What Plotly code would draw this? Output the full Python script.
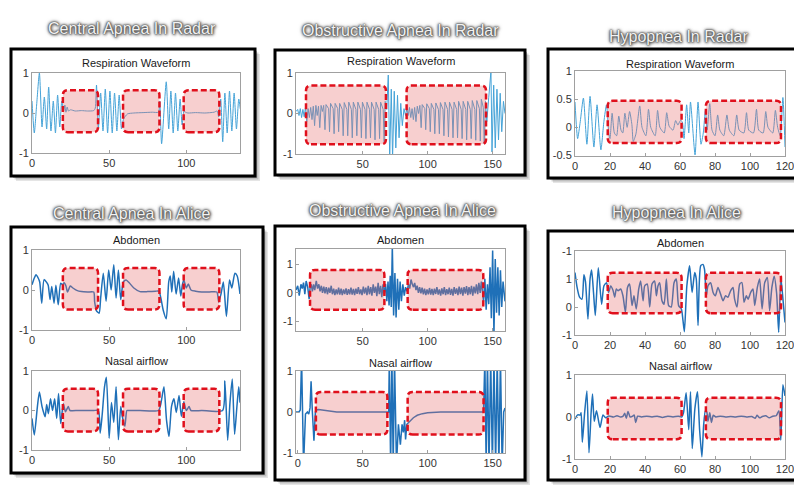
import plotly.graph_objects as go

# ---------------- DATA (time in s, normalised amplitude) ----------------
cr_points = [(0,0.3),(1.5,-0.5),(3,0.2),(4.8,1.0),(6.5,-0.35),(8,0.4),(9.5,-0.4),(10.8,0.65),(12.3,-0.45),
             (13.8,0.3),(15.2,-0.5),(16.6,0.45),(18,-0.35),(19.3,0.3),(20.5,0.05),(21.3,0.2),(22,0.02),(22.8,0.15),
             (23.6,0.05),(25,0.08),(28,0.05),(32,0.06),(36,0.05),(40,0.06),(41,0.12),(41.8,0.7),(43,-0.4),(44.5,0.5),
             (46,-0.45),(47.5,0.6),(49,-0.5),(50.5,0.55),(52,-0.5),(53.5,0.5),(55,-0.45),(56.5,0.45),(58,-0.4),
             (59.3,-0.15),(60.5,-0.08),(62,-0.02),(66,0.0),(72,0.01),(78,0.02),(82,0.02),(82.8,0.3),(84,-0.77),
             (87,0.78),(88.6,-0.4),(90,0.55),(91.5,-0.5),(93,0.5),(94.5,-0.45),(96,0.35),(97.3,-0.3),(98.5,0.05),
             (99.5,0.02),(101,0.0),(106,0.01),(112,0.0),(118,0.02),(120,0.05),(121,-0.1),(122.3,0.35),(123.6,-0.72),
             (125,0.5),(126.5,-0.5),(128,0.55),(129.5,-0.45),(131,0.5),(132.5,-0.4),(134,0.35),(135,0.1)]

or_points = [(-1.3,0.05),(0,0.1),(1,-0.05),(2,0.12),(3,-0.1),(4,0.1),(5,-0.08),(6,0.15),(7,-0.2),(8,0.12),(9,-0.1),
             (10,0.15),(11,-0.15),(12,0.18),(13,-0.3),(14,0.2),(15,-0.05),(16,0.18),(17,-0.35),(18,0.2),(19,0.05),
             (20,0.2),(21,-0.4),(21.8,0.22),(23.8,0.12),(24.5,-0.45),(25.3,0.25),(27.3,0.12),(28,-0.5),(28.8,0.25),
             (30.8,0.12),(31.5,-0.45),(32.3,0.25),(34.3,0.1),(35,-0.55),(35.8,0.27),(37.8,0.1),(38.5,-0.55),
             (39.3,0.28),(41.3,0.1),(42,-0.6),(42.8,0.28),(44.8,0.1),(45.5,-0.55),(46.3,0.28),(48.3,0.1),(49,-0.6),
             (49.8,0.28),(51.8,0.1),(52.5,-0.62),(53.3,0.28),(55.3,0.1),(56,-0.6),(56.8,0.28),(58.8,0.1),(59.5,-0.65),
             (60.3,0.28),(62.3,0.1),(63,-0.62),(63.8,0.28),(65.8,0.1),(66.5,-0.7),(67.3,0.3),(68.5,0.1),(69.7,0.95),
             (70.8,-1.1),(72,0.6),(73,-1.1),(74.3,0.55),(75.5,-0.85),(76.8,0.45),(78,-0.6),(79.3,0.25),(80.5,-0.3),
             (81.8,0.12),(83,-0.05),(84,0.12),(85,-0.05),(86,0.15),(87,-0.1),(88,0.12),(89,-0.15),(90,0.15),(91,-0.2),
             (92,0.18),(93,0.0),(94,0.2),(95,-0.35),(95.8,0.22),(97.8,0.12),(98.5,-0.4),(99.3,0.24),(101.3,0.12),
             (102,-0.45),(102.8,0.25),(104.8,0.1),(105.5,-0.5),(106.3,0.26),(108.3,0.1),(109,-0.5),(109.8,0.27),
             (111.8,0.1),(112.5,-0.55),(113.3,0.28),(115.3,0.1),(116,-0.58),(116.8,0.28),(118.8,0.1),(119.5,-0.6),
             (120.3,0.28),(122.3,0.1),(123,-0.6),(123.8,0.3),(125.8,0.1),(126.5,-0.62),(127.3,0.3),(129.3,0.1),
             (130,-0.65),(130.8,0.3),(132.8,0.1),(133.5,-0.62),(134.3,0.32),(136.3,0.1),(137,-0.66),(137.8,0.32),
             (139.8,0.12),(140.5,-0.68),(141.3,0.35),(142.8,0.15),(143.5,-0.75),(144.5,0.3),(145.5,-0.2),(147,0.4),
             (148.7,1.05),(149.5,-0.95),(150.8,0.7),(152,-0.85),(153.3,0.6),(154.5,-0.65),(155.8,0.5),(157,-0.45),
             (158.3,0.3),(159.5,0.0)]

hr_points = [(0,0.45),(1.5,-0.2),(3,0.1),(4.8,0.52),(6.8,-0.3),(8.6,0.55),(10.8,-0.35),(12.6,0.4),(14.8,-0.4),
             (16.5,0.1),(18,0.4),(19.3,-0.1),(20,-0.2),(21.2,0.25),(22.5,-0.1),(23.8,-0.15),(25,0.2),(26.3,-0.05),
             (27.3,-0.1),(28.5,0.25),(29.8,0.0),(31.2,0.28),(32.5,0.05),(33.3,-0.25),(34.8,-0.12),(37,0.38),(38.3,0.0),
             (40.5,-0.15),(42,0.32),(43.3,0.0),(45.8,-0.15),(47.2,0.3),(48.5,0.0),(51,-0.1),(52.4,0.26),(53.8,0.02),
             (56,-0.05),(57.5,0.12),(58.8,0.04),(60.2,0.12),(61.3,0.1),(62.3,-0.2),(63.8,0.4),(65,-0.1),(66,0.45),
             (68.6,-0.49),(70.3,0.45),(72,-0.3),(73.3,-0.1),(74.5,0.3),(75.5,-0.05),(77,0.42),(78.3,-0.05),(80,-0.15),
             (81.5,0.22),(82.8,-0.05),(85,-0.15),(86.8,0.22),(88.2,-0.05),(90.8,-0.15),(92.4,0.22),(93.8,-0.05),
             (96.5,-0.1),(98,0.26),(99.3,-0.05),(102,-0.1),(103.7,0.32),(105,-0.05),(107.5,-0.1),(109,0.28),(110.3,0.0),
             (113,-0.1),(114.5,0.3),(115.8,0.0),(117.3,-0.15),(118.8,0.53),(120,-0.35)]

caa_points = [(0,0.13),(1.5,0.3),(2.6,0.38),(4,0.3),(5,0.2),(6.3,-0.33),(7.8,0.26),(9.5,0.19),(10.5,0.12),
              (11.7,-0.24),(12.8,0.09),(14.3,-0.33),(15.5,0.12),(17,-0.37),(18.6,0.17),(19.8,0.13),(20.8,0.18),
              (22,0.1),(23,-0.05),(24.8,0.1),(26.5,0.05),(29,-0.01),(32,-0.04),(36,-0.05),(40,-0.05),(40.6,-0.3),
              (41.8,-0.52),(43.5,-0.58),(44.5,-0.2),(46.2,0.42),(48,-0.28),(49.7,0.5),(51.3,0.0),(53,0.63),(54.5,-0.2),
              (56,0.5),(57.5,-0.24),(59.2,0.2),(61,0.25),(63,0.18),(66,0.05),(70,-0.04),(75,-0.04),(80,-0.03),
              (82.2,-0.03),(83.5,-0.2),(85,-0.5),(87,-0.72),(88.6,0.2),(89.6,0.35),(90.6,-0.05),(91.8,0.47),
              (93.4,-0.1),(95,0.3),(96.4,-0.15),(97.4,0.12),(98.4,0.25),(100,0.05),(101.3,0.15),(103,0.0),(106,-0.03),
              (110,-0.05),(115,-0.05),(119.8,-0.05),(121,-0.3),(122.5,-0.1),(124,0.2),(126,-0.66),(128,0.25),
              (129.5,0.05),(131.5,0.42),(133,0.35),(134.8,-0.1)]

can_points = [(0,-0.2),(1.5,-0.62),(3.5,0.1),(4.8,0.47),(6.5,0.1),(8.5,-0.16),(9.5,0.15),(10.6,-0.08),(12,0.3),
              (13.3,0.0),(14.7,0.3),(16,-0.2),(17.2,0.43),(18.6,-0.33),(20.3,0.17),(21.7,-0.03),(23.5,0.1),(24.6,0.0),
              (30,0.0),(40,0.0),(43,0.0),(44.2,-0.57),(45.5,-0.1),(47,0.6),(48.2,0.84),(50,-0.7),(51.5,0.2),(53,-0.3),
              (54.5,0.6),(56,-0.74),(57.5,0.1),(58.5,-0.15),(60.2,-0.4),(61.5,0.0),(63,0.0),(70,0.0),(82,0.0),
              (83.5,0.17),(85.5,0.6),(87.2,-0.25),(88.8,-0.66),(90.4,0.1),(92,0.3),(93.5,-0.05),(95.3,0.38),
              (96.8,-0.15),(98.4,0.22),(100,0.0),(101.8,0.1),(103,0.0),(110,0.0),(123.5,0.0),(125,0.75),(126.8,-0.75),
              (128.3,0.2),(129.8,0.8),(131.3,-0.6),(132.8,0.1),(134,0.6),(134.8,0.2)]

oaa_points = [(-1.3,0.1),(0,0.25),(1.2,-0.1),(2.5,0.3),(3.5,0.15),(4.5,0.36),(5.5,-0.05),(6.5,0.42),(7.7,0.2),
              (8.8,-0.22),(9.6,0.2),(10.4,0.3),(11.3,0.05),(12.2,0.3),(13.1,0.1),(14.3,0.42),(15.3,0.15),(16.3,0.3),
              (17.2,0.05),(18.2,0.25),(19.1,0.0),(20.1,0.22),(21,-0.02),(22,0.2),(22.9,-0.05),(23.9,0.18),(24.8,0.0),
              (25.8,0.25),(26.7,-0.05),(27.7,0.15),(28.6,-0.08),(29.6,0.12),(30.5,-0.05),(31.5,0.18),(32.4,-0.06),
              (33.4,0.15),(34.3,-0.08),(35.3,0.12),(36.2,-0.04),(37.2,0.16),(38.1,-0.07),(39.1,0.13),(40,-0.05),
              (41,0.18),(41.9,-0.06),(42.9,0.14),(43.8,-0.08),(44.8,0.15),(45.7,-0.04),(46.7,0.2),(47.6,-0.05),
              (48.6,0.12),(49.5,-0.08),(50.5,0.22),(51.4,-0.03),(52.4,0.18),(53.3,-0.08),(54.3,0.25),(55.2,-0.05),
              (56.2,0.2),(57.1,-0.1),(58.1,0.3),(59,0.0),(60,0.22),(60.9,-0.12),(61.9,0.35),(62.8,-0.05),(63.8,0.25),
              (64.7,-0.15),(65.7,0.3),(66.6,-0.05),(67.6,0.32),(68.6,-0.3),(69.5,0.4),(70.3,-0.45),(71.2,0.6),
              (72,-0.5),(72.8,1.65),(73.8,-0.8),(74.8,0.7),(75.7,-0.87),(76.8,0.5),(77.8,-0.6),(78.8,0.4),(79.8,-0.3),
              (80.9,0.3),(82,-0.1),(83,0.2),(84.2,0.05),(85.2,0.3),(86.2,0.15),(87.2,0.47),(88.2,0.3),(89.1,0.2),
              (90,0.35),(91,0.1),(91.9,0.25),(92.9,0.0),(93.8,0.2),(94.8,-0.02),(95.7,0.18),(96.7,-0.05),(97.6,0.15),
              (98.6,-0.08),(99.5,0.12),(100.5,-0.05),(101.4,0.17),(102.4,-0.06),(103.3,0.14),(104.3,-0.08),
              (105.2,0.15),(106.2,-0.04),(107.1,0.2),(108.1,-0.06),(109,0.12),(110,-0.1),(110.9,0.16),(111.9,-0.05),
              (112.8,0.2),(113.8,-0.08),(114.7,0.13),(115.7,-0.05),(116.6,0.18),(117.6,-0.07),(118.5,0.14),
              (119.5,-0.1),(120.4,0.2),(121.4,-0.04),(122.3,0.16),(123.3,-0.08),(124.2,0.22),(125.2,-0.05),
              (126.1,0.18),(127.1,-0.1),(128,0.2),(129,-0.03),(129.9,0.24),(130.9,-0.08),(131.8,0.2),(132.8,-0.05),
              (133.7,0.25),(134.7,-0.1),(135.6,0.22),(136.6,-0.02),(137.5,0.3),(138.5,-0.05),(139.4,0.35),
              (140.4,0.0),(141.3,0.4),(142.2,0.05),(143,-0.3),(144,0.5),(145,-0.6),(146,0.3),(147,-0.4),(148,0.9),
              (149,-0.9),(150,1.5),(151,-1.45),(152,1.2),(153,-0.7),(154,0.9),(155,-0.8),(156,0.8),(157,-0.5),
              (158,0.4),(159.5,-0.3)]

oan_points = [(-1.3,0.0),(1,0.0),(2,0.05),(3,1.3),(4.5,-1.3),(6,-0.05),(7.5,0.0),(8.5,-0.05),(9.5,0.1),(10.3,0.75),
              (11.3,0.0),(12.5,-0.7),(13.6,0.0),(14.5,0.05),(16,0.06),(20,0.04),(25,0.02),(30,0.0),(40,0.0),(55,0.0),
              (70,0.0),(70.5,1.3),(71.5,-1.3),(72.5,1.3),(73.5,-1.3),(74.5,1.3),(76,-1.3),(77.5,-0.3),(79,-0.8),
              (80.3,-0.3),(81.3,-0.5),(82.3,-0.2),(83,-0.67),(84,-0.3),(85,-0.27),(87,-0.2),(89,-0.14),(92,-0.08),
              (96,-0.04),(100,-0.02),(105,-0.005),(110,0.0),(125,0.0),(143,0.0),(144,1.3),(145,-1.3),(146,1.3),
              (147.2,-1.3),(148.5,1.3),(149.8,-1.3),(151,1.3),(152.3,-1.3),(153.5,1.3),(154.8,-1.3),(156,1.3),
              (157.3,-1.3),(158.5,0.0),(159.5,0.1)]

haa_points = [(0,1.23),(1.2,0.7),(2.6,0.35),(4,0.28),(5.1,1.15),(6,0.9),(7.4,-0.43),(8.6,1.0),(9.5,1.32),(10.6,0.5),
              (11.6,-0.3),(13.3,1.4),(15.2,0.1),(16.5,0.75),(18,0.87),(19.2,0.52),(20.4,0.75),(21.7,0.6),(22.7,0.35),
              (23.6,0.64),(24.6,0.58),(26.1,0.64),(27.4,0.4),(28.8,-0.19),(30,0.7),(31.2,0.82),(32.6,0.05),(33.7,0.4),
              (35,-0.07),(36.4,0.64),(37.5,0.93),(38.9,0.22),(39.8,0.75),(41.3,0.82),(42.7,0.0),(44,0.82),(45.5,0.93),
              (46.5,0.4),(47.4,0.75),(48.4,0.87),(49.7,0.22),(50.9,0.1),(52.2,1.0),(53.5,0.05),(55,0.0),(56.6,0.87),
              (57.9,1.0),(59.2,0.05),(60.8,-0.07),(61.7,-0.48),(62.5,-0.88),(63.9,0.75),(65.5,1.47),(66.9,0.52),
              (68.4,1.23),(69.3,1.0),(70.3,-0.66),(71.8,1.47),(73.1,1.52),(74,1.35),(75,0.4),(76,0.76),(77.5,0.87),
              (78.9,0.52),(80.2,0.4),(81.7,0.7),(83.2,0.46),(84.6,0.22),(86,0.4),(87.4,0.35),(88.9,0.58),(90.3,0.7),
              (91.2,0.28),(92.6,0.0),(94.1,0.82),(95.4,0.87),(96.6,0.17),(97.9,0.4),(98.9,0.28),(100.4,0.52),
              (101.7,0.64),(102.7,0.05),(104.2,0.7),(105.5,1.0),(106.9,-0.07),(108.4,0.87),(109.9,1.05),(111.2,-0.13),
              (112.5,0.7),(113.8,1.1),(115.2,0.5),(116.4,-0.9),(117.6,1.05),(118.8,0.3),(120,-0.55)]

han_points = [(0,-0.05),(1.5,0.05),(3,0.05),(3.5,0.1),(4.2,-0.6),(5.5,0.1),(6.8,0.62),(8,-0.85),(9.2,0.1),(10,0.55),
              (11,-0.1),(12.3,0.15),(14.3,-0.25),(16,0.05),(17.5,-0.02),(19,0.02),(20,0.02),(22,0.0),(24,0.03),(26,0.0),
              (27.5,0.02),(28.4,0.09),(29.3,-0.03),(30.3,0.13),(31.5,0.0),(33,0.02),(33.8,0.05),(34.7,-0.13),
              (35.8,0.02),(38,0.0),(41,0.02),(44,0.0),(47,0.02),(50,-0.01),(53,0.02),(56,0.0),(59,0.02),(61,0.0),
              (62,0.1),(63.5,0.58),(65,-0.3),(66,0.6),(67,-0.75),(68.5,0.2),(70,0.6),(71.2,-0.3),(72.5,-0.95),
              (73.5,-0.2),(74.5,0.15),(75.3,0.12),(76,-0.1),(77,0.1),(78,-0.13),(79,0.04),(80.5,0.0),(83,0.02),(86,0.0),
              (89,0.01),(92,0.0),(95,0.02),(98,0.0),(101,0.01),(103,-0.03),(104,0.04),(105.5,-0.02),(107,0.01),
              (109,0.03),(111,-0.02),(113,0.02),(115,0.03),(116.5,0.15),(117.6,-0.55),(118.8,0.77),(120,0.5)]

# apnea / hypopnea event intervals (s) and marked amplitude band
central_events = [(20, 42.8), (59, 82.6), (98.3, 121.4)]
obstr_radar_events = [(6.4, 67.9), (83.8, 144.9)]
obstr_alice_abd_events = [(9.5, 66.7), (84.6, 142.8)]
obstr_alice_nasal_events = [(14, 69), (84.6, 143)]
hypop_events = [(18.7, 60.9), (74.8, 117.7)]

cr_band = (-0.48, 0.57)
caa_band = (-0.49, 0.55)
can_band = (-0.53, 0.55)
or_band = (-0.76, 0.69)
oaa_band = (-0.6, 0.81)
oan_band = (-0.55, 0.49)
hr_band = (-0.28, 0.47)
haa_band = (-0.22, 1.22)
han_band = (-0.53, 0.46)

group_titles = ["Central Apnea In Radar", "Obstructive Apnea In Radar", "Hypopnea In Radar",
                "Central Apnea In Alice", "Obstructive Apnea In Alice", "Hypopnea In Alice"]

# ---------------- LAYOUT ----------------
W, H = 802, 500
def X(p): return p / W
def Y(p): return 1 - p / H

RADAR = dict(color="#45a3d8", width=1.0)
ALICE = dict(color="#1f70b8", width=1.5)

subplots = [
    dict(pts=cr_points, ev=central_events, band=cr_band, box=(24, 65, 232, 145), xr=(0, 134.8), yr=(-1, 1),
         xt=[0, 50, 100], yt=[-1, 0, 1], ytt=None, title="Respiration Waveform", ty=55, line=RADAR, shape="spline"),
    dict(pts=or_points, ev=obstr_radar_events, band=or_band, box=(288, 65, 497, 146), xr=(-1.3, 159.5), yr=(-1, 1),
         xt=[50, 100, 150], yt=[-1, 0, 1], ytt=None, title="Respiration Waveform", ty=53, line=RADAR, shape="linear"),
    dict(pts=hr_points, ev=hypop_events, band=hr_band, box=(567, 63, 777, 147.5), xr=(0, 120), yr=(-0.5, 1),
         xt=[0, 20, 40, 60, 80, 100, 120], yt=[-0.5, 0, 0.5, 1], ytt=["-0.5", "0", "0.5", "1"],
         title="Respiration Waveform", ty=56, line=RADAR, shape="spline"),
    dict(pts=caa_points, ev=central_events, band=caa_band, box=(24, 242, 232, 322), xr=(0, 134.8), yr=(-1, 1),
         xt=[0, 50, 100], yt=[-1, 0, 1], ytt=None, title="Abdomen", ty=232, line=ALICE, shape="spline"),
    dict(pts=can_points, ev=central_events, band=can_band, box=(24, 363, 232, 442), xr=(0, 134.8), yr=(-1, 1),
         xt=[0, 50, 100], yt=[-1, 0, 1], ytt=None, title="Nasal airflow", ty=353, line=ALICE, shape="spline"),
    dict(pts=oaa_points, ev=obstr_alice_abd_events, band=oaa_band, box=(288, 241, 497, 323), xr=(-1.3, 159.5),
         yr=(-1.35, 1.55), xt=[50, 100, 150], yt=[-1, 0, 1], ytt=None, title="Abdomen", ty=232, line=ALICE,
         shape="linear"),
    dict(pts=oan_points, ev=obstr_alice_nasal_events, band=oan_band, box=(288, 363, 497, 445), xr=(-1.3, 159.5),
         yr=(-1, 1), xt=[0, 50, 100, 150], yt=[-1, 0, 1], ytt=None, title="Nasal airflow", ty=355, line=ALICE,
         shape="linear"),
    dict(pts=haa_points, ev=hypop_events, band=haa_band, box=(567, 243, 777, 327), xr=(0, 120), yr=(-1, 2),
         xt=[0, 20, 40, 60, 80, 100, 120], yt=[-1, 0, 1, 2], ytt=["-1", "0", "1", "-1"], title="Abdomen", ty=235,
         line=ALICE, shape="spline"),
    dict(pts=han_points, ev=hypop_events, band=han_band, box=(567, 367, 777, 451), xr=(0, 120), yr=(-1, 1),
         xt=[0, 20, 40, 60, 80, 100, 120], yt=[-1, 0, 1], ytt=None, title="Nasal airflow", ty=358, line=ALICE,
         shape="spline"),
]

frames = [(3, 41, 247, 168), (267, 42, 517, 167), (540, 41, 797, 170),
          (3, 219, 255, 465), (267, 218, 517, 472), (540, 223, 798, 472)]
title_pos = [(124, 20), (392, 22), (670, 28), (124, 206), (394, 202), (668, 205)]

fig = go.Figure()
shapes, annotations = [], []
layout = dict(width=W, height=H, margin=dict(l=0, r=0, t=0, b=0), template="none",
              paper_bgcolor="white", plot_bgcolor="rgba(0,0,0,0)", showlegend=False,
              font=dict(family="Liberation Sans, Arial, sans-serif", size=11, color="#333333"))

# frames with drop shadow
for (l, t, r, b) in frames:
    for off, a in ((5, 0.10), (3.5, 0.16), (2, 0.22)):
        shapes.append(dict(type="rect", xref="paper", yref="paper", x0=X(l + off), x1=X(r + off),
                           y0=Y(b + off), y1=Y(t + off), line=dict(width=0), fillcolor=f"rgba(0,0,0,{a})",
                           layer="below"))
    shapes.append(dict(type="rect", xref="paper", yref="paper", x0=X(l), x1=X(r), y0=Y(b), y1=Y(t),
                       line=dict(color="black", width=3), fillcolor="white", layer="below"))

glow = ("0px 0px 1px #4a4a4a, 0px 0px 2px #4a4a4a, 0px 0px 3px #555555, "
        "0px 0px 4px #777777, 1px 1px 3px #666666")
for (txt, (cx, cy)) in zip(group_titles, title_pos):
    annotations.append(dict(text=txt, xref="paper", yref="paper", x=X(cx), y=Y(cy), showarrow=False,
                            xanchor="center", yanchor="middle",
                            font=dict(family="Liberation Sans, Arial, sans-serif", size=16, color="#f2f2f2",
                                      shadow=glow)))

for i, sp in enumerate(subplots, start=1):
    xs = [p[0] for p in sp["pts"]]
    ys = [p[1] for p in sp["pts"]]
    xa, ya = f"x{i}", f"y{i}"
    fig.add_trace(go.Scatter(x=xs, y=ys, mode="lines", xaxis=xa, yaxis=ya,
                             line=dict(color=sp["line"]["color"], width=sp["line"]["width"], shape=sp["shape"],
                                       smoothing=0.6 if sp["shape"] == "spline" else None),
                             hoverinfo="skip"))
    l, t, r, b = sp["box"]
    axcommon = dict(showline=True, mirror=True, linecolor="#a0a0a0", linewidth=1, ticks="inside", ticklen=3,
                    tickcolor="#a0a0a0", showgrid=False, zeroline=False, fixedrange=True,
                    tickfont=dict(size=11, color="#333333"))
    layout[f"xaxis{i}"] = dict(domain=[X(l), X(r)], anchor=ya, range=list(sp["xr"]), tickvals=sp["xt"],
                               ticktext=[str(v) for v in sp["xt"]], **axcommon)
    layout[f"yaxis{i}"] = dict(domain=[Y(b), Y(t)], anchor=xa, range=list(sp["yr"]), tickvals=sp["yt"],
                               ticktext=sp["ytt"] if sp["ytt"] else [str(v) for v in sp["yt"]], **axcommon)
    annotations.append(dict(text=sp["title"], xref="paper", yref="paper", x=X((l + r) / 2), y=Y(sp["ty"]),
                            showarrow=False, xanchor="center", yanchor="middle",
                            font=dict(size=11, color="#1a1a1a")))
    # rounded dashed event boxes
    rx = 5 * (sp["xr"][1] - sp["xr"][0]) / (r - l)
    ry = 5 * (sp["yr"][1] - sp["yr"][0]) / (b - t)
    lo, hi = sp["band"]
    for (a, c) in sp["ev"]:
        path = (f"M {a+rx},{lo} L {c-rx},{lo} Q {c},{lo} {c},{lo+ry} L {c},{hi-ry} Q {c},{hi} {c-rx},{hi} "
                f"L {a+rx},{hi} Q {a},{hi} {a},{hi-ry} L {a},{lo+ry} Q {a},{lo} {a+rx},{lo} Z")
        shapes.append(dict(type="path", xref=xa, yref=ya, path=path, layer="above",
                           fillcolor="rgba(232,110,110,0.33)",
                           line=dict(color="#e0101c", width=2.5, dash="6px,3px")))

layout["shapes"] = shapes
layout["annotations"] = annotations
fig.update_layout(**layout)
fig.write_html("out.html")
